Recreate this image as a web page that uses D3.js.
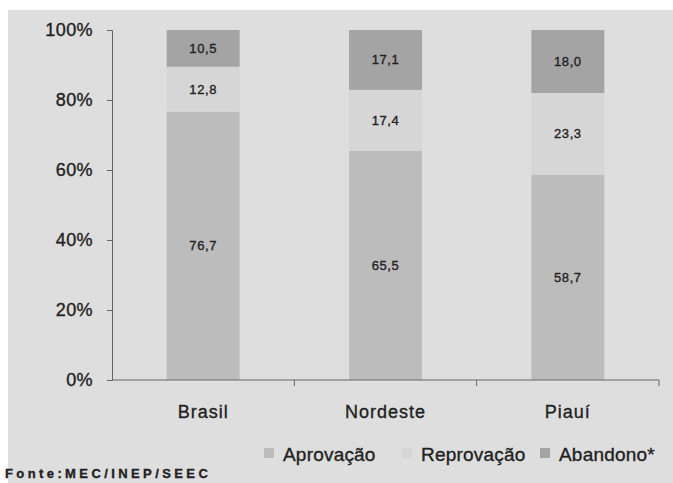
<!DOCTYPE html>
<html>
<head>
<meta charset="utf-8">
<script src="https://cdn.jsdelivr.net/npm/d3@7"></script>
<style>
  body { margin: 0; background: #fff; }
  svg { display: block; }
  text { font-family: "Liberation Sans", Arial, sans-serif; fill: #222; stroke: #222; stroke-width: 0.35; }
</style>
</head>
<body>
<svg id="chart" width="673" height="483"></svg>
<script>
var regions = ["Brasil", "Nordeste", "Piauí"];
var aprovacao = [76.7, 65.5, 58.7];
var reprovacao = [12.8, 17.4, 23.3];
var abandono = [10.5, 17.1, 18.0];
var seriesNames = ["Aprovação", "Reprovação", "Abandono*"];
var yTicks = [0, 20, 40, 60, 80, 100];

var svg = d3.select("#chart"),
    margin = {top: 30, right: 14, bottom: 103, left: 112},
    width = +svg.attr("width") - margin.left - margin.right,
    height = +svg.attr("height") - margin.top - margin.bottom;

// scanned page background
svg.append("rect")
    .attr("x", 8).attr("y", 10)
    .attr("width", 665).attr("height", 473)
    .attr("fill", "#dedede");

var chart = svg.append("g").attr("transform", "translate(" + margin.left + "," + margin.top + ")");

var x = d3.scaleBand()
    .domain(regions)
    .range([0, width])
    .paddingInner(0.6)
    .paddingOuter(0.3);

var y = d3.scaleLinear()
    .domain([0, 100])
    .range([height, 0]);

var colour = d3.scaleOrdinal()
    .domain(seriesNames)
    .range(["#bcbcbc", "#d6d6d6", "#a4a4a4"]);

var table = regions.map(function(r, i) {
    return {region: r, "Aprovação": aprovacao[i], "Reprovação": reprovacao[i], "Abandono*": abandono[i]};
});

var stacked = d3.stack().keys(seriesNames)(table);

var fmt = function(v) { return d3.format(".1f")(v).replace(".", ","); };

var layer = chart.selectAll(".layer")
    .data(stacked)
    .enter().append("g")
    .attr("class", "layer");

layer.selectAll("rect")
    .data(function(d) { return d; })
    .enter().append("rect")
    .attr("x", function(d) { return x(d.data.region); })
    .attr("y", function(d) { return y(d[1]); })
    .attr("width", x.bandwidth())
    .attr("height", function(d) { return y(d[0]) - y(d[1]); })
    .attr("fill", function() { return colour(d3.select(this.parentNode).datum().key); });

layer.selectAll("text")
    .data(function(d) { return d.map(function(p) { return {p: p, key: d.key}; }); })
    .enter().append("text")
    .attr("x", function(d) { return x(d.p.data.region) + x.bandwidth() / 2; })
    .attr("y", function(d) { return (y(d.p[0]) + y(d.p[1])) / 2; })
    .attr("dy", "0.35em")
    .attr("text-anchor", "middle")
    .attr("font-size", 13)
    .attr("letter-spacing", 0.6)
    .text(function(d) { return fmt(d.p.data[d.key]); });

// y axis
var yAxis = chart.append("g")
    .call(d3.axisLeft(y).tickValues(yTicks).tickFormat(function(d) { return d + "%"; }).tickSize(5).tickPadding(14));
yAxis.select(".domain").attr("stroke", "#666");
yAxis.selectAll(".tick line").attr("stroke", "#666");
yAxis.selectAll(".tick text")
    .attr("font-size", 18)
    .attr("letter-spacing", 0.4);

// x axis, ticks between categories
var xAxis = chart.append("g").attr("transform", "translate(0," + height + ")");
xAxis.append("line")
    .attr("x1", 0).attr("x2", width)
    .attr("stroke", "#666");
var step = width / regions.length;
xAxis.selectAll(".sep")
    .data(regions)
    .enter().append("line")
    .attr("x1", function(d, i) { return (i + 1) * step; })
    .attr("x2", function(d, i) { return (i + 1) * step; })
    .attr("y1", 0).attr("y2", 6)
    .attr("stroke", "#666");
xAxis.selectAll(".label")
    .data(regions)
    .enter().append("text")
    .attr("x", function(d) { return x(d) + x.bandwidth() / 2; })
    .attr("y", 38)
    .attr("text-anchor", "middle")
    .attr("font-size", 18)
    .attr("letter-spacing", 1)
    .text(function(d) { return d; });

// legend
var legendX = [264, 402, 540];
var legend = svg.append("g")
    .selectAll("g")
    .data(seriesNames)
    .enter().append("g")
    .attr("transform", function(d, i) { return "translate(" + legendX[i] + ",448)"; });

legend.append("rect")
    .attr("width", 10)
    .attr("height", 10)
    .attr("fill", colour);

legend.append("text")
    .attr("x", 19)
    .attr("y", 6)
    .attr("dy", "0.35em")
    .attr("font-size", 19)
    .attr("letter-spacing", 0.2)
    .text(function(d) { return d; });

// source
svg.append("text")
    .attr("x", 5)
    .attr("y", 478)
    .attr("font-size", 13)
    .attr("font-weight", "bold")
    .attr("letter-spacing", 3.4)
    .text("Fonte:MEC/INEP/SEEC");
</script>
</body>
</html>
